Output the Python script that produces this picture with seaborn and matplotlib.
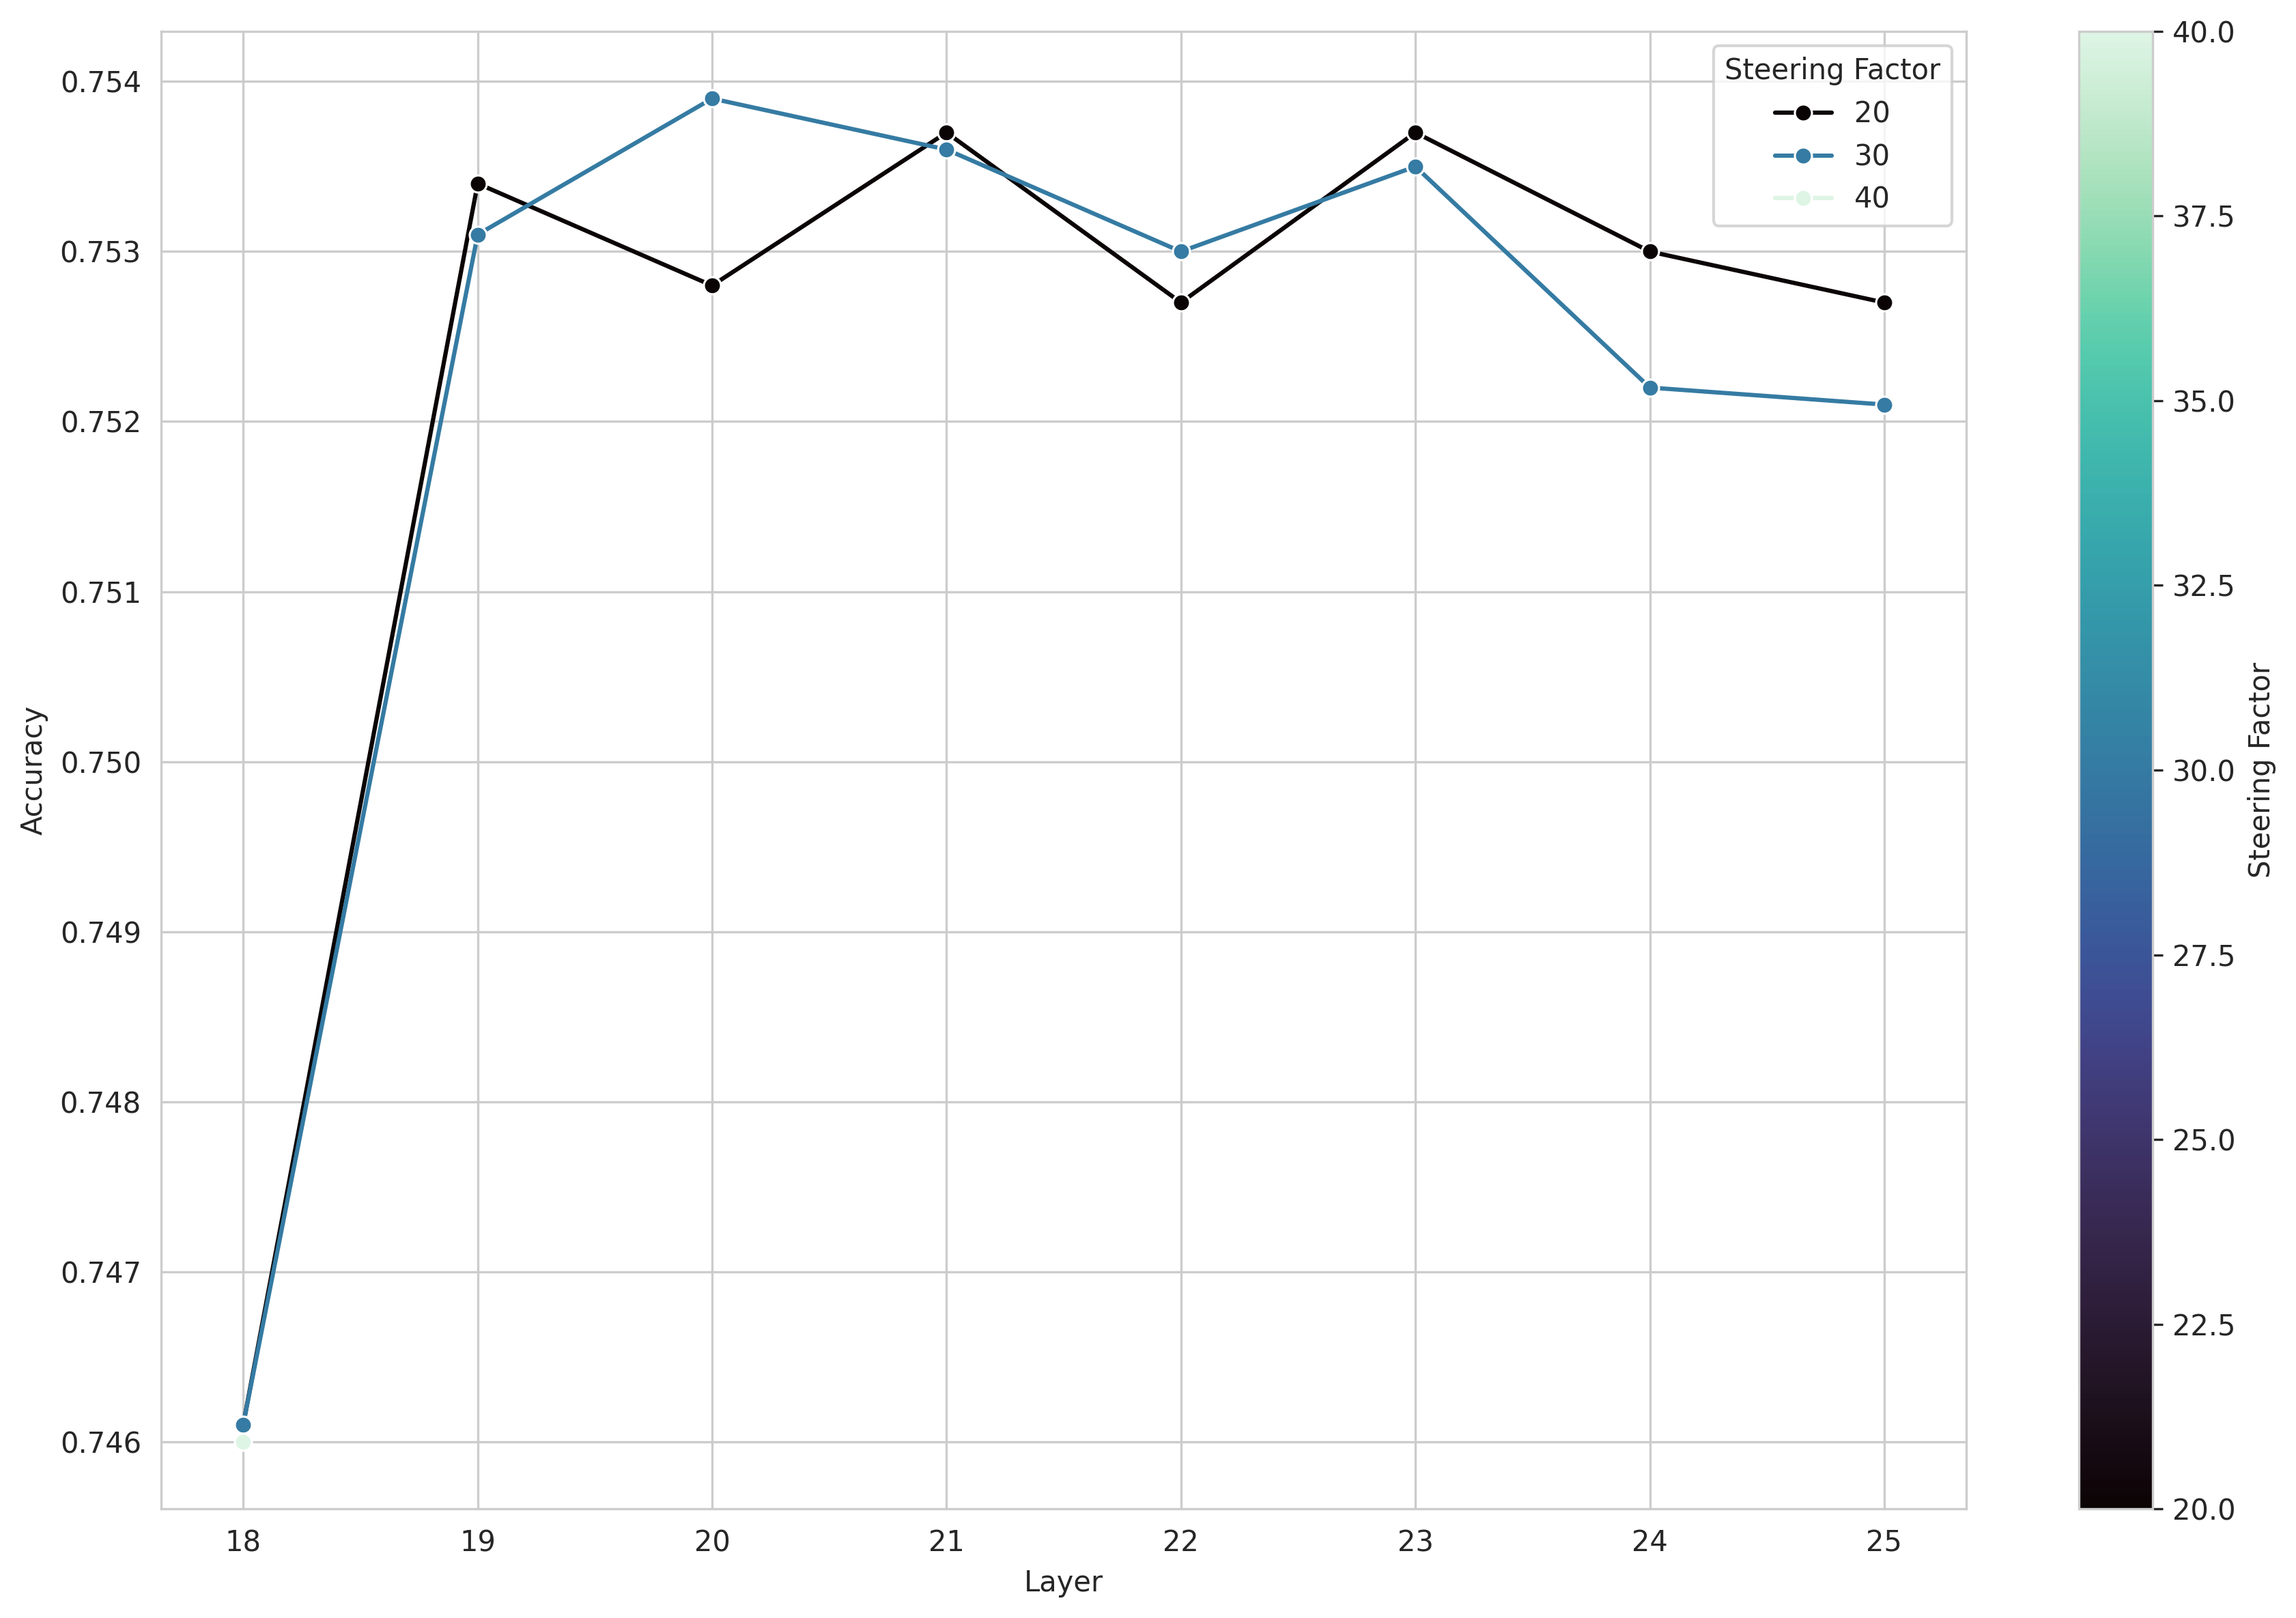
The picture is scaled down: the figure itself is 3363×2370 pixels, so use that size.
import pandas as pd
import seaborn as sns
import matplotlib
from matplotlib import pyplot as plt
import matplotlib.cm as cm
import matplotlib.colors as colors
matplotlib.use('Agg')

sns.set_style("whitegrid")

# accuracy per layer for each steering factor
layers_20 = [18, 19, 20, 21, 22, 23, 24, 25]
acc_20 = [0.7461, 0.7534, 0.7528, 0.7537, 0.7527, 0.7537, 0.7530, 0.7527]
layers_30 = [18, 19, 20, 21, 22, 23, 24, 25]
acc_30 = [0.7461, 0.7531, 0.7539, 0.7536, 0.7530, 0.7535, 0.7522, 0.7521]
layers_40 = [18]
acc_40 = [0.7460]

df = pd.concat([
    pd.DataFrame({"Layer": layers_20, "Accuracy": acc_20, "Steering Factor": 20}),
    pd.DataFrame({"Layer": layers_30, "Accuracy": acc_30, "Steering Factor": 30}),
    pd.DataFrame({"Layer": layers_40, "Accuracy": acc_40, "Steering Factor": 40}),
], ignore_index=True)

fig = plt.figure(figsize=(11.21, 7.9), dpi=300)
ax = fig.add_axes([0.0702, 0.0675, 0.7862, 0.9131])
cax = fig.add_axes([0.9054, 0.0675, 0.0321, 0.9131])

sns.lineplot(data=df, x="Layer", y="Accuracy", hue="Steering Factor",
             palette="mako", marker="o", markersize=6, lw=1.5, ax=ax)

norm = colors.Normalize(vmin=df["Steering Factor"].min(), vmax=df["Steering Factor"].max())
sm = cm.ScalarMappable(norm=norm, cmap="mako")
sm.set_array([])
cbar = fig.colorbar(sm, cax=cax, label="Steering Factor")
cbar.outline.set_edgecolor("#cccccc")
cbar.ax.tick_params(length=3.5, width=0.8, color="#262626")

ax.legend(title="Steering Factor", loc="upper right")
ax.set_xlabel("Layer")
ax.set_ylabel("Accuracy")
for s in ax.spines.values():
    s.set_edgecolor("#cccccc")

plt.savefig("out.png", dpi=300)
